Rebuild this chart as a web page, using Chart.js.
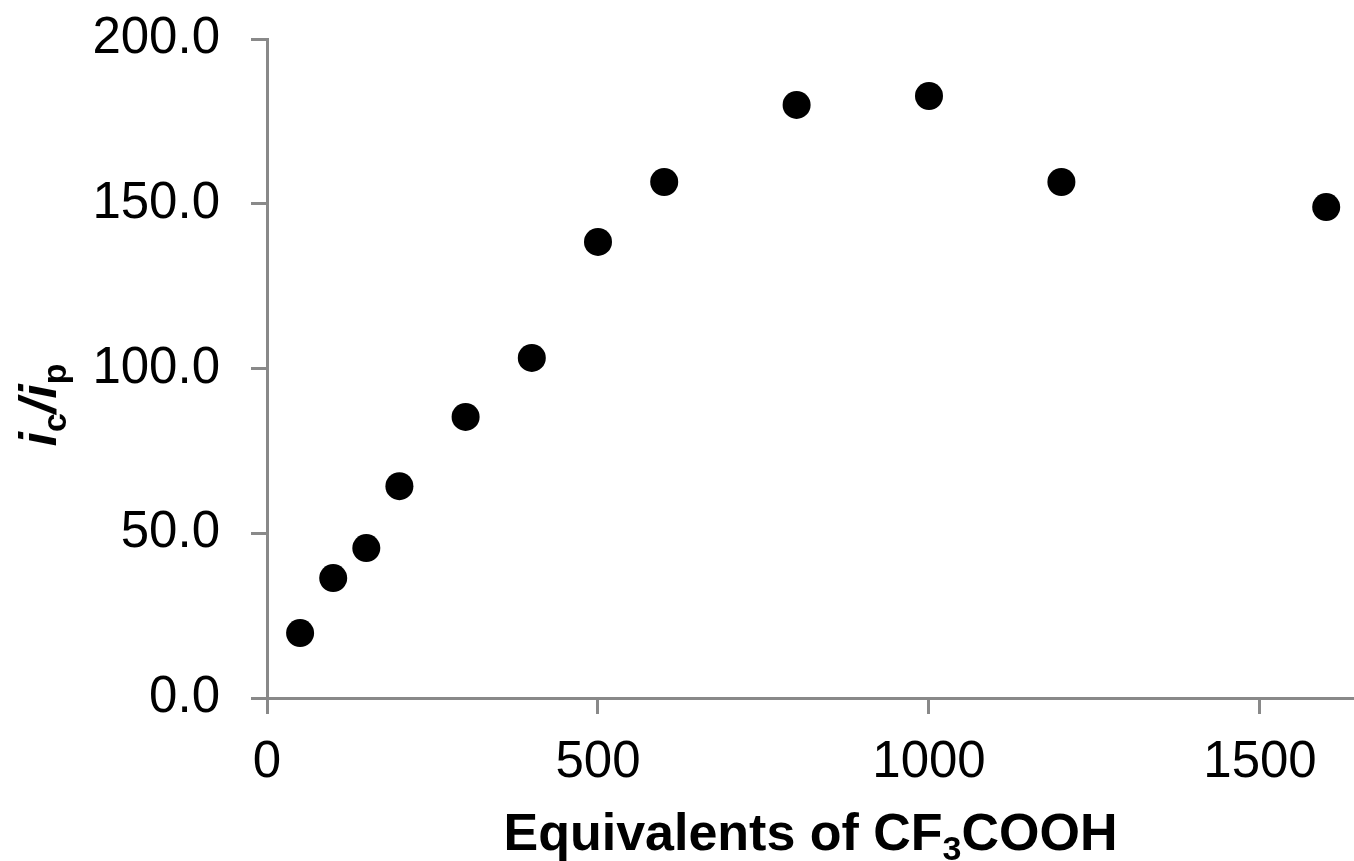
<!DOCTYPE html>
<html>
<head>
<meta charset="utf-8">
<script src="https://cdn.jsdelivr.net/npm/chart.js@4/dist/chart.umd.min.js"></script>
<style>
html,body{margin:0;padding:0;background:#fff;}
canvas{display:block;}
</style>
</head>
<body>
<canvas id="c" width="1354" height="861"></canvas>
<script>
const equivalents = [50, 100, 150, 200, 300, 400, 500, 600, 800, 1000, 1200, 1600];
const ratio = [19.7, 36.4, 45.5, 64.3, 85.3, 103.2, 138.4, 156.6, 180.0, 182.7, 156.6, 149.0];
const xTicks = [0, 500, 1000, 1500];
const yTicks = [0, 50, 100, 150, 200];
const xTitleRuns = [
  {text: 'Equivalents of CF', style: 'bold', size: 52, sub: false},
  {text: '3', style: 'bold', size: 34, sub: true},
  {text: 'COOH', style: 'bold', size: 52, sub: false}
];
const yTitleRuns = [
  {text: 'i', style: 'italic bold', size: 52, sub: false},
  {text: 'c', style: 'bold', size: 34, sub: true},
  {text: '/', style: 'italic bold', size: 52, sub: false},
  {text: 'i', style: 'italic bold', size: 52, sub: false},
  {text: 'p', style: 'bold', size: 34, sub: true}
];

const FONT = '"Liberation Sans", Arial, sans-serif';

function drawRuns(ctx, runs, cx, baseline) {
  let total = 0;
  runs.forEach(r => { ctx.font = r.style + ' ' + r.size + 'px ' + FONT; r.w = ctx.measureText(r.text).width; total += r.w; });
  let x = cx - total / 2;
  ctx.textBaseline = 'alphabetic';
  ctx.textAlign = 'left';
  ctx.fillStyle = '#000';
  runs.forEach(r => {
    ctx.font = r.style + ' ' + r.size + 'px ' + FONT;
    ctx.fillText(r.text, x, baseline + (r.sub ? 10 : 0));
    x += r.w;
  });
}

const titlePlugin = {
  id: 'titles',
  afterDraw(chart) {
    const ctx = chart.ctx;
    const area = chart.chartArea;
    ctx.save();
    drawRuns(ctx, xTitleRuns, (area.left + area.right) / 2, 850);
    ctx.restore();
    ctx.save();
    ctx.translate(56, 405);
    ctx.rotate(-Math.PI / 2);
    drawRuns(ctx, yTitleRuns, 0, 0);
    ctx.restore();
  }
};

new Chart(document.getElementById('c'), {
  type: 'scatter',
  data: {
    datasets: [{
      data: equivalents.map((x, i) => ({x: x, y: ratio[i]})),
      backgroundColor: '#000',
      borderColor: '#000',
      pointRadius: 14,
      pointHoverRadius: 14,
      borderWidth: 0,
      clip: false
    }]
  },
  options: {
    responsive: false,
    animation: false,
    devicePixelRatio: 1,
    layout: {autoPadding: false, padding: {top: 39, right: 0, left: 0, bottom: 0}},
    plugins: {legend: {display: false}, tooltip: {enabled: false}},
    scales: {
      x: {
        type: 'linear',
        min: 0,
        max: 1642,
        afterBuildTicks(s) { s.ticks = xTicks.map(v => ({value: v})); },
        afterFit(s) { s.height = 163; s.paddingRight = 0; s.paddingLeft = 0; },
        ticks: {
          color: '#000',
          font: {family: FONT, size: 51},
          padding: 18,
          maxRotation: 0,
          callback: v => String(v)
        },
        grid: {display: true, drawOnChartArea: false, drawTicks: true, tickLength: 16, color: '#898989', lineWidth: 3},
        border: {display: true, color: '#898989', width: 3}
      },
      y: {
        type: 'linear',
        min: 0,
        max: 200,
        afterBuildTicks(s) { s.ticks = yTicks.map(v => ({value: v})); },
        afterFit(s) { s.width = 267; s.paddingTop = 0; s.paddingBottom = 0; },
        ticks: {
          color: '#000',
          font: {family: FONT, size: 51},
          padding: 31,
          callback: v => Number(v).toFixed(1)
        },
        grid: {display: true, drawOnChartArea: false, drawTicks: true, tickLength: 16, color: '#898989', lineWidth: 3},
        border: {display: true, color: '#898989', width: 3}
      }
    }
  },
  plugins: [titlePlugin]
});
</script>
</body>
</html>
